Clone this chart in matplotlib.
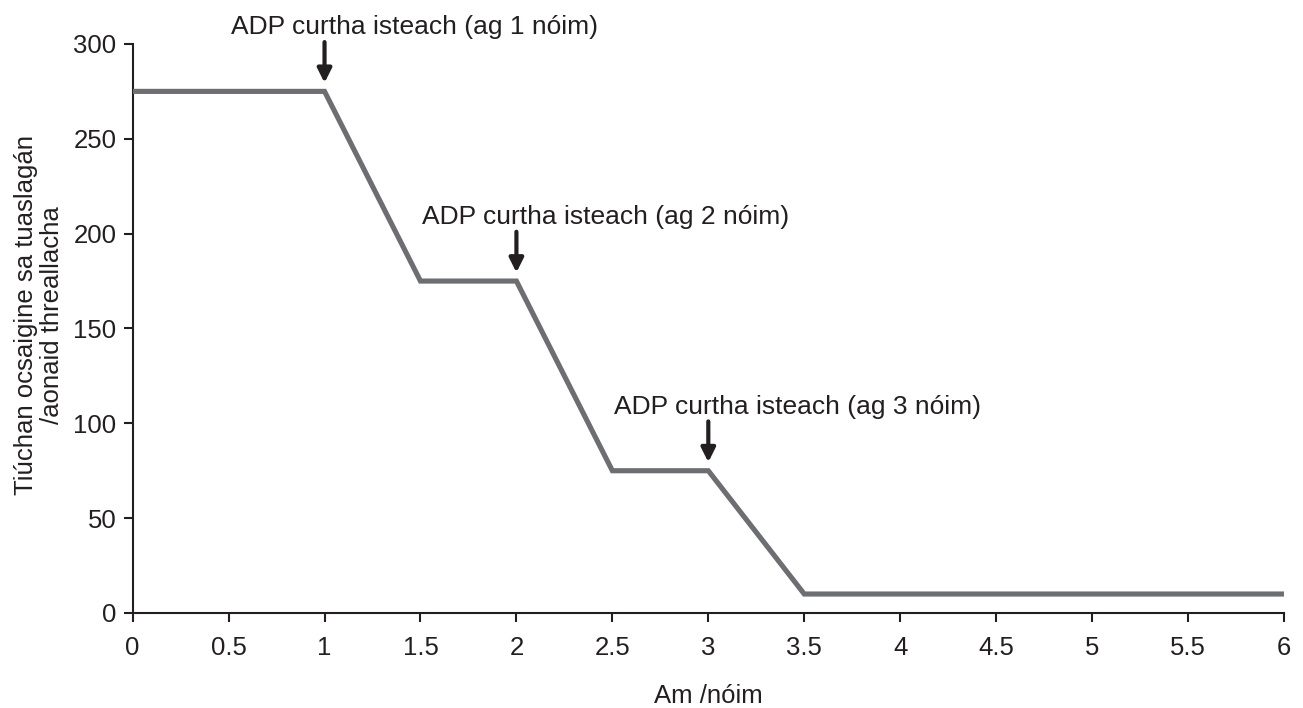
import numpy as np
import matplotlib
matplotlib.use("Agg")
import matplotlib.pyplot as plt

plt.rcParams['font.family'] = ['Liberation Sans', 'DejaVu Sans']

# data
time_min = [0, 1, 1.5, 2, 2.5, 3, 3.5, 6]
oxygen = [275, 275, 175, 175, 75, 75, 10, 10]

adp_time = [1, 2, 3]
adp_level = [275, 175, 75]
adp_labels = ["ADP curtha isteach (ag 1 nóim)",
              "ADP curtha isteach (ag 2 nóim)",
              "ADP curtha isteach (ag 3 nóim)"]

x_ticks = [0, 0.5, 1, 1.5, 2, 2.5, 3, 3.5, 4, 4.5, 5, 5.5, 6]
y_ticks = [0, 50, 100, 150, 200, 250, 300]

dark = "#231f20"
grey = "#6d6e71"

fig = plt.figure(figsize=(13.03, 7.08), dpi=100)
ax = fig.add_axes([0.1018, 0.1342, 0.8836, 0.8037])

ax.plot(time_min, oxygen, color=grey, lw=3.7, solid_capstyle="butt",
        solid_joinstyle="miter", zorder=3)

for t, lev, lab in zip(adp_time, adp_level, adp_labels):
    ax.text(t - 0.49, lev + 30, lab, fontsize=19, color=dark,
            ha="left", va="baseline", clip_on=False)
    ax.annotate("", xy=(t, lev + 4.5), xytext=(t, lev + 26),
                annotation_clip=False,
                arrowprops=dict(arrowstyle="-|>", color=dark, lw=3,
                                mutation_scale=21, shrinkA=0, shrinkB=0))

ax.set_xlim(0, 6)
ax.set_ylim(0, 300)
ax.set_xticks(x_ticks)
ax.set_xticklabels([f"{v:g}" for v in x_ticks])
ax.set_yticks(y_ticks)
ax.set_yticklabels([str(v) for v in y_ticks])

for s in ["top", "right"]:
    ax.spines[s].set_visible(False)
for s in ["left", "bottom"]:
    ax.spines[s].set_linewidth(1.5)
    ax.spines[s].set_color(dark)

ax.tick_params(axis="both", direction="out", length=6.8, width=1.5,
               colors=dark, labelsize=18.5)
ax.tick_params(axis="x", pad=9.5)
ax.tick_params(axis="y", pad=5)

ax.set_xlabel("Am /nóim", fontsize=18.5, color=dark, va="top")
ax.xaxis.set_label_coords(0.5, -0.125)
ax.set_ylabel("Tiúchan ocsaigine sa tuaslagán\n/aonaid threallacha",
              fontsize=18.5, color=dark, linespacing=1.1)
ax.yaxis.set_label_coords(-0.06, 0.524)

fig.savefig("out.png", dpi=100)
